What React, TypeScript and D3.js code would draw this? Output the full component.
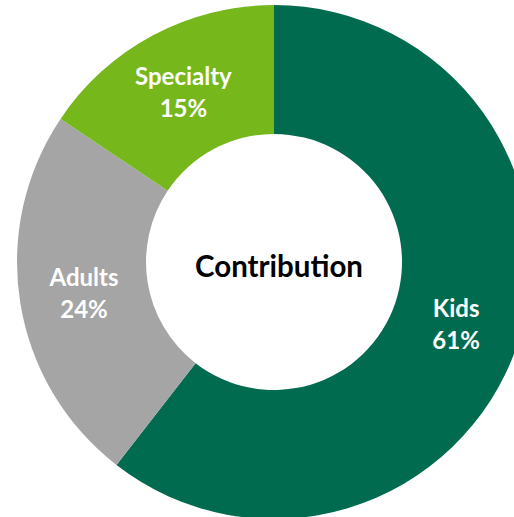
import React from "react";
import * as d3 from "d3";

const categories = ["Kids", "Adults", "Specialty"];
const values = [60.5, 23.9, 15.6];
const percentLabels = ["61%", "24%", "15%"];
const colors = ["#006B4F", "#A5A5A5", "#76B71C"];
const centerTitle = "Contribution";

const W = 514;
const H = 517;
const cx = 274;
const cy = 262;
const outerR = 257;
const innerR = 128;
const font = "Lato, 'Open Sans', sans-serif";

export default function App() {
  const pie = d3.pie<number>().sort(null).value((d) => d)(values);
  const arc = d3.arc<d3.PieArcDatum<number>>().innerRadius(innerR).outerRadius(outerR);
  return (
    <svg
      width={W}
      height={H}
      style={{ position: "absolute", left: 0, top: 0 }}
    >
      <rect width={W} height={H} fill="#fff" />
      <g transform={`translate(${cx},${cy})`}>
        {pie.map((p, i) => (
          <path key={categories[i]} d={arc(p) || ""} fill={colors[i]} />
        ))}
        {pie.map((p, i) => {
          const [x, y] = arc.centroid(p);
          return (
            <text
              key={"l" + i}
              x={x}
              y={y}
              fill="#fff"
              fontFamily={font}
              fontWeight="bold"
              fontSize={24}
              textAnchor="middle"
            >
              <tspan x={x} y={y - 7}>{categories[i]}</tspan>
              <tspan x={x} y={y + 25}>{percentLabels[i]}</tspan>
            </text>
          );
        })}
        <text
          x={5}
          y={15}
          fill="#000"
          fontFamily={font}
          fontWeight="bold"
          fontSize={29.5}
          textAnchor="middle"
        >
          {centerTitle}
        </text>
      </g>
    </svg>
  );
}
